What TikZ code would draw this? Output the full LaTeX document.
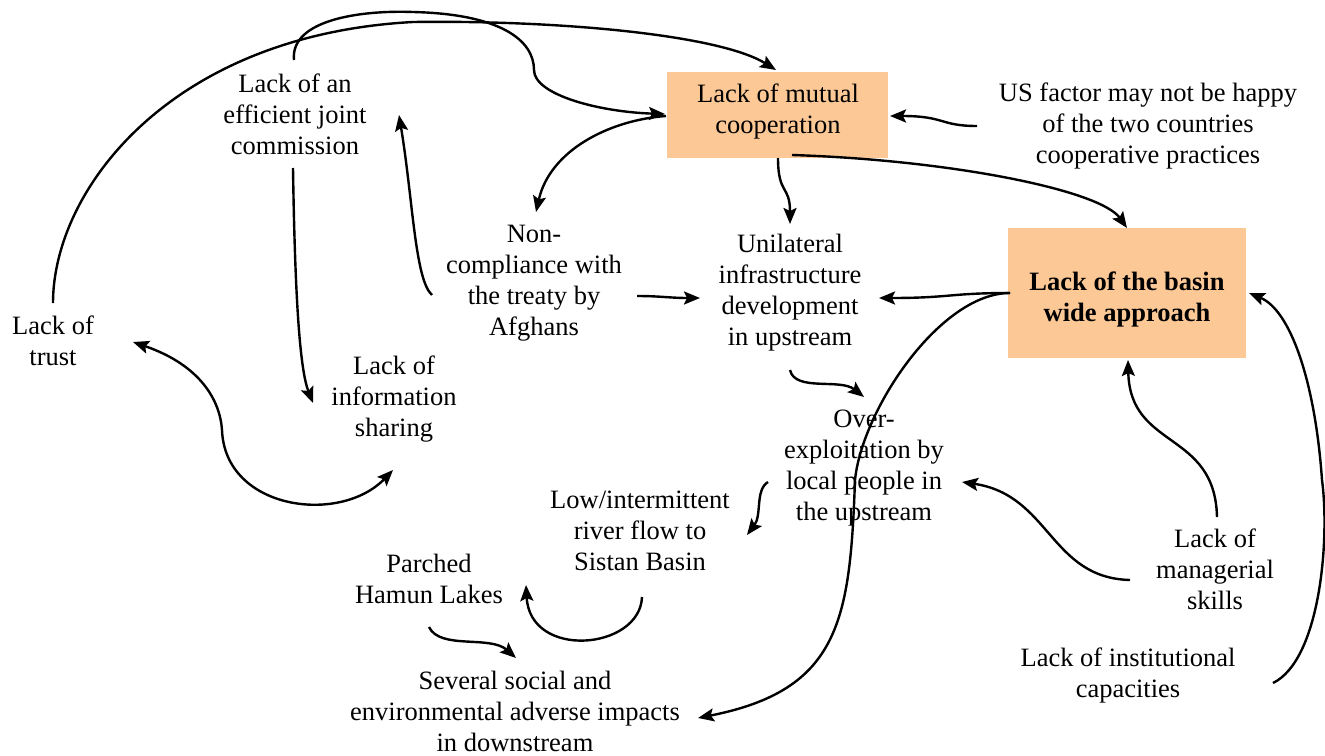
\documentclass[tikz,border=0pt]{standalone}
\usepackage{fontspec}
\setmainfont{Liberation Serif}
\usetikzlibrary{arrows.meta,calc}
\definecolor{peach}{RGB}{252,201,150}
\begin{document}
\begin{tikzpicture}[x=1pt,y=-1pt,
  lbl/.style={align=center,font=\fontsize{26.5}{31}\selectfont,inner sep=0pt},
  factor/.style={fill=peach,inner sep=0pt},
  tip/.tip={Stealth[length=16pt,width=13pt,inset=3pt]},
  link/.style={line width=2.4pt,-tip},
  twoway/.style={line width=2.4pt,tip-tip},
]
\useasboundingbox (0,0) rectangle (1325,755);

% shaded factor boxes and their captions
\node[factor,minimum width=221pt,minimum height=86pt] (mc) at (777.5,115) {};
\node[lbl] (mct) at (778,111) {Lack of mutual\\cooperation};
\node[factor,minimum width=238pt,minimum height=130pt] (bw) at (1127,293) {};
\node[lbl,font=\fontsize{26.5}{31}\selectfont\bfseries] (bwt) at (1127,299) {Lack of the basin\\wide approach};

% plain factors
\node[lbl] (us) at (1148,126) {US factor may not be happy\\of the two countries\\cooperative practices};
\node[lbl] (jc) at (295,114) {Lack of an\\efficient joint\\commission};
\node[lbl] (nc) at (534,283) {Non-\\compliance with\\the treaty by\\Afghans};
\node[lbl] (ui) at (790,293) {Unilateral\\infrastructure\\development\\in upstream};
\node[lbl] (tr) at (53,341) {Lack of\\trust};
\node[lbl] (is) at (394,399) {Lack of\\information\\sharing};
\node[lbl] (oe) at (864,468) {Over-\\exploitation by\\local people in\\the upstream};
\node[lbl] (lf) at (640,531) {Low/intermittent\\river flow to\\Sistan Basin};
\node[lbl] (ph) at (429,579) {Parched\\Hamun Lakes};
\node[lbl] (ss) at (515,711) {Several social and\\environmental adverse impacts\\in downstream};
\node[lbl] (ms) at (1215,569) {Lack of\\managerial\\skills};
\node[lbl] (ic) at (1128,675) {Lack of institutional\\capacities};

% causal links
\draw[link] ($(tr)+(0,-38)$) .. controls (53,190) and (170,35) .. (413,22)
  .. controls (560,20) and (720,35) .. ($(mc)+(-1.5,-45)$);
\draw[link] ($(jc)+(-1,-54)$) .. controls (290,20) and (360,10) .. (413,12)
  .. controls (500,14) and (534,40) .. (534,70)
  .. controls (534,95) and (600,112) .. ($(mc)+(-112.5,-1)$);
\draw[link] ($(mc)+(-111.5,1)$) .. controls (610,120) and (550,150) .. ($(nc)+(2,-71)$);
\draw[link] ($(us)+(-171,0)$) .. controls (940,126) and (945,116) .. ($(mc)+(112.5,1)$);
\draw[link] ($(mc)+(0.5,43)$) .. controls (778,195) and (790,185) .. ($(ui)+(0,-69)$);
\draw[link] ($(mc)+(14.5,40)$) .. controls (950,160) and (1100,190) .. ($(bw)+(0,-65)$);
\draw[link] ($(bw)+(-117,0)$) .. controls (950,293) and (950,298) .. ($(ui)+(89,5)$);
\draw[link] ($(bw)+(-117,0)$) .. controls (940,293) and (862,410) .. (855,480)
  .. controls (850,620) and (840,690) .. ($(ss)+(183,7)$);
\draw[link] ($(ic)+(145,8)$) .. controls (1320,660) and (1330,540) .. (1322,480)
  .. controls (1315,380) and (1290,310) .. ($(bw)+(122,0)$);
\draw[link] ($(ms)+(2,-52)$) .. controls (1215,430) and (1130,450) .. ($(bw)+(1,67)$);
\draw[link] ($(ms)+(-85,11)$) .. controls (1050,578) and (1050,495) .. ($(oe)+(98,14)$);
\draw[link] ($(ui)+(0,77)$) .. controls (795,392) and (840,378) .. ($(oe)+(0,-71)$);
\draw[link] ($(oe)+(-96,14)$) .. controls (755,490) and (762,515) .. ($(lf)+(107,4)$);
\draw[link] ($(lf)+(2,66)$) .. controls (640,650) and (530,660) .. ($(ph)+(97,6)$);
\draw[link] ($(ph)+(0,48)$) .. controls (440,650) and (490,635) .. ($(ss)+(1,-53)$);
\draw[link] ($(jc)+(-2,54)$) .. controls (295,300) and (300,370) .. ($(is)+(-81,4)$);
\draw[twoway] ($(tr)+(80,1)$) .. controls (200,365) and (220,400) .. (222,430)
  .. controls (225,510) and (340,525) .. ($(is)+(-1,71)$);
\draw[link] ($(nc)+(-102,12)$) .. controls (415,280) and (413,200) .. ($(jc)+(104,1)$);
\draw[link] ($(nc)+(103,13)$) .. controls (660,296) and (670,298) .. ($(ui)+(-90,5)$);
\end{tikzpicture}
\end{document}
